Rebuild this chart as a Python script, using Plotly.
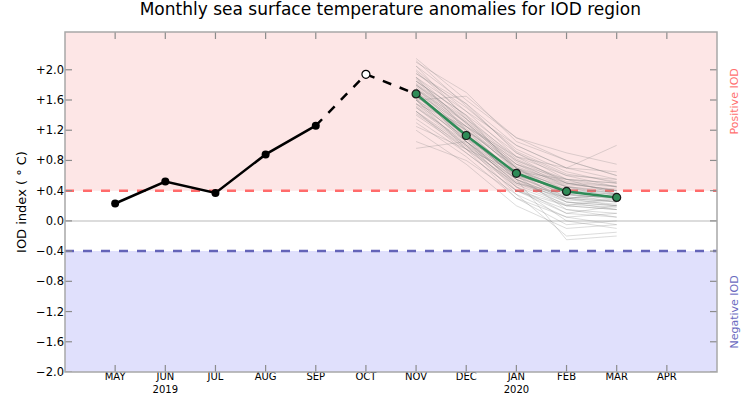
import plotly.graph_objects as go

# ---------------- data ----------------
months = ["MAY", "JUN<br>2019", "JUL", "AUG", "SEP", "OCT", "NOV", "DEC",
          "JAN<br>2020", "FEB", "MAR", "APR"]
month_idx = list(range(len(months)))

obs_x = [0, 1, 2, 3, 4]
obs_vals = [0.23, 0.52, 0.37, 0.88, 1.26]
prelim_x = [4, 5, 6]
prelim_vals = [1.26, 1.94, 1.68]

fc_x = [6, 7, 8, 9, 10]
fc_mean = [1.68, 1.13, 0.63, 0.39, 0.31]

ensemble_members = [
    [1.95, 1.55, 1.00, 0.70, 0.55], [1.80, 1.30, 0.75, 0.50, 0.40],
    [1.60, 1.05, 0.55, 0.30, 0.25], [1.45, 0.90, 0.40, 0.15, 0.10],
    [1.75, 1.20, 0.70, 0.45, 0.35], [2.10, 1.70, 1.05, 0.80, 0.60],
    [1.30, 0.85, 0.30, -0.05, 0.00], [1.70, 1.25, 0.65, 0.35, 0.30],
    [1.55, 1.00, 0.45, 0.20, 0.15], [1.85, 1.40, 0.90, 0.60, 0.45],
    [1.65, 1.10, 0.60, 0.40, 0.35], [1.90, 1.35, 0.80, 0.55, 0.50],
    [1.40, 0.95, 0.50, 0.25, 0.20], [1.75, 1.15, 0.55, 0.20, 0.30],
    [2.00, 1.45, 0.85, 0.50, 0.40], [1.50, 1.00, 0.35, -0.20, -0.15],
    [1.60, 1.20, 0.75, 0.55, 0.45], [1.80, 1.25, 0.70, 0.35, 0.25],
    [1.20, 0.75, 0.20, -0.10, -0.05], [1.70, 1.05, 0.50, 0.30, 0.35],
    [1.95, 1.50, 0.95, 0.65, 0.50], [1.65, 1.15, 0.65, 0.45, 0.40],
    [1.55, 1.10, 0.60, 0.30, 0.20], [1.85, 1.30, 0.70, 0.40, 0.30],
    [1.45, 0.95, 0.45, 0.10, 0.05], [1.75, 1.25, 0.80, 0.50, 0.45],
    [1.05, 0.80, 0.35, 0.05, 0.10], [2.15, 1.60, 1.10, 0.90, 0.75],
    [1.70, 1.15, 0.55, 0.25, 0.20], [1.60, 1.05, 0.50, 0.35, 0.30],
    [1.80, 1.35, 0.85, 0.60, 0.55], [1.35, 0.90, 0.40, 0.20, 0.15],
    [1.90, 1.20, 0.60, 0.15, 0.05], [1.65, 1.20, 0.70, 0.50, 0.40],
    [1.50, 1.05, 0.55, 0.30, 0.35], [2.05, 1.55, 0.90, 0.55, 0.35],
    [1.70, 1.10, 0.45, 0.00, -0.10], [1.55, 1.25, 0.85, 0.70, 1.00],
    [1.75, 1.30, 0.75, 0.45, 0.30], [1.85, 1.40, 0.65, 0.25, 0.15],
    [0.96, 1.05, 0.60, 0.40, 0.35], [1.60, 1.65, 1.10, 0.80, 0.60],
    [1.45, 1.00, 0.55, -0.25, -0.20], [1.70, 1.05, 0.40, 0.10, 0.20],
    [1.90, 1.45, 1.00, 0.70, 0.65], [1.25, 0.95, 0.65, 0.55, 0.50],
    [2.05, 1.35, 0.70, 0.30, 0.25], [1.60, 0.95, 0.30, 0.05, -0.05],
    [1.78, 1.22, 0.68, 0.42, 0.38], [1.62, 1.08, 0.58, 0.36, 0.28],
    [1.88, 1.28, 0.72, 0.48, 0.42], [1.52, 1.02, 0.52, 0.28, 0.22],
    [1.72, 1.18, 0.62, 0.38, 0.32], [1.98, 1.38, 0.82, 0.52, 0.46],
    [1.42, 0.98, 0.48, 0.22, 0.18], [2.12, 1.52, 0.92, 0.62, 0.52],
    [1.68, 1.12, 0.58, 0.32, 0.26], [1.82, 1.32, 0.78, 0.46, 0.36],
]

y_ticks = [-2.0, -1.6, -1.2, -0.8, -0.4, 0.0, 0.4, 0.8, 1.2, 1.6, 2.0]
y_tick_labels = ["\u22122.0", "\u22121.6", "\u22121.2", "\u22120.8", "\u22120.4", "0.0",
                 "+0.4", "+0.8", "+1.2", "+1.6", "+2.0"]
pos_threshold = 0.4
neg_threshold = -0.4
x_range = [-1, 12]
y_range = [-2.0, 2.5]

# ---------------- geometry / style ----------------
W, H = 755, 397
M = dict(l=65, r=38, t=32, b=25)
plot_w = W - M["l"] - M["r"]
plot_h = H - M["t"] - M["b"]
TICK_LEN = 7
TICK_COLOR = "#8c8c8c"
FRAME_COLOR = "#a8a8a8"
FONT = "DejaVu Sans"

fig = go.Figure()

for m in ensemble_members:
    fig.add_trace(go.Scatter(x=fc_x, y=m, mode="lines",
                             line=dict(color="rgba(130,130,130,0.28)", width=1),
                             hoverinfo="skip", showlegend=False))

fig.add_trace(go.Scatter(x=prelim_x, y=prelim_vals, mode="lines",
                         line=dict(color="black", width=2.5, dash="dash"),
                         showlegend=False))
fig.add_trace(go.Scatter(x=obs_x, y=obs_vals, mode="lines+markers",
                         line=dict(color="black", width=2.5),
                         marker=dict(color="black", size=8),
                         showlegend=False))
fig.add_trace(go.Scatter(x=[prelim_x[1]], y=[prelim_vals[1]], mode="markers",
                         marker=dict(color="white", size=8,
                                     line=dict(color="black", width=1.2)),
                         showlegend=False))
fig.add_trace(go.Scatter(x=fc_x, y=fc_mean, mode="lines+markers",
                         line=dict(color="#2e8b57", width=2.5),
                         marker=dict(color="#2e8b57", size=8,
                                     line=dict(color="#1a1a1a", width=1.2)),
                         showlegend=False))

# shaded regions
fig.add_shape(type="rect", xref="x", yref="y", x0=x_range[0], x1=x_range[1],
              y0=pos_threshold, y1=y_range[1], fillcolor="#fde6e6",
              line=dict(width=0), layer="below")
fig.add_shape(type="rect", xref="x", yref="y", x0=x_range[0], x1=x_range[1],
              y0=y_range[0], y1=neg_threshold, fillcolor="#e0e0fc",
              line=dict(width=0), layer="below")
fig.add_shape(type="line", xref="x", yref="y", x0=x_range[0], x1=x_range[1],
              y0=0, y1=0, line=dict(color="#d0d0d0", width=1.5), layer="below")
fig.add_shape(type="line", xref="x", yref="y", x0=x_range[0], x1=x_range[1],
              y0=pos_threshold, y1=pos_threshold,
              line=dict(color="#ff6b6b", width=2.5, dash="dash"), layer="below")
fig.add_shape(type="line", xref="x", yref="y", x0=x_range[0], x1=x_range[1],
              y0=neg_threshold, y1=neg_threshold,
              line=dict(color="#6464b8", width=2.5, dash="dash"), layer="below")

# inward tick marks on all four sides, placed at the axis tick values
tx = TICK_LEN / plot_h
ty = TICK_LEN / plot_w
for v in month_idx:
    for a, b in ((0, tx), (1, 1 - tx)):
        fig.add_shape(type="line", xref="x", yref="paper", x0=v, x1=v, y0=a, y1=b,
                      line=dict(color=TICK_COLOR, width=1.2), layer="above")
for v in y_ticks:
    for a, b in ((0, ty), (1, 1 - ty)):
        fig.add_shape(type="line", xref="paper", yref="y", x0=a, x1=b, y0=v, y1=v,
                      line=dict(color=TICK_COLOR, width=1.2), layer="above")
# frame
fig.add_shape(type="rect", xref="paper", yref="paper", x0=0, x1=1, y0=0, y1=1,
              line=dict(color=FRAME_COLOR, width=1.5), fillcolor="rgba(0,0,0,0)",
              layer="above")

fig.add_annotation(text="Positive IOD", xref="paper", yref="y", x=1.0276, y=1.58,
                   xanchor="center", yanchor="middle",
                   textangle=-90, showarrow=False,
                   font=dict(family=FONT, size=11, color="#ff7070"))
fig.add_annotation(text="Negative IOD", xref="paper", yref="y", x=1.0276, y=-1.2,
                   xanchor="center", yanchor="middle",
                   textangle=-90, showarrow=False,
                   font=dict(family=FONT, size=11, color="#6a6ac0"))

fig.update_layout(
    width=W, height=H,
    margin=M,
    paper_bgcolor="white", plot_bgcolor="white",
    font=dict(family=FONT, size=10, color="black"),
    title=dict(text="Monthly sea surface temperature anomalies for IOD region",
               x=0.517, xanchor="center", xref="container",
               y=1 - 9 / H, yanchor="middle", yref="container",
               font=dict(family=FONT, size=17, color="black")),
    showlegend=False,
)
fig.update_xaxes(range=x_range, tickmode="array", tickvals=month_idx,
                 ticktext=months, ticks="", showline=False,
                 showgrid=False, zeroline=False,
                 automargin=False, tickfont=dict(family=FONT, size=10))
try:
    fig.update_xaxes(ticklabelstandoff=-3)
except Exception:
    pass
fig.update_yaxes(range=y_range, tickmode="array", tickvals=y_ticks,
                 ticktext=y_tick_labels, ticks="", showline=False,
                 showgrid=False, zeroline=False, automargin=False,
                 title=dict(text="IOD index ( \u00b0 C)", standoff=6,
                            font=dict(family=FONT, size=13)),
                 tickfont=dict(family=FONT, size=11.5))

fig.write_html("out.html", config={"displayModeBar": False},
               post_script="document.body.style.margin='0';")
